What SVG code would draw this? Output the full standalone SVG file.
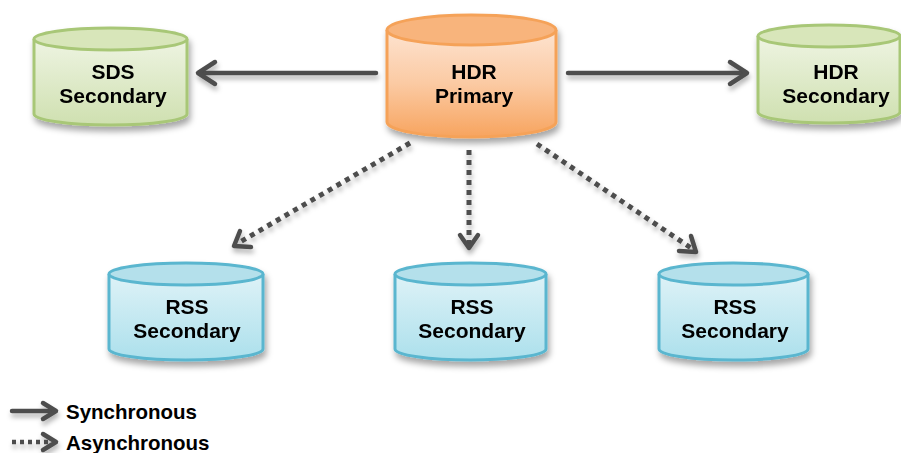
<svg xmlns="http://www.w3.org/2000/svg" width="901" height="453" viewBox="0 0 901 453">
<style>
text{font-family:"Liberation Sans",Arial,sans-serif;font-weight:bold;font-size:21px;fill:#000;text-anchor:middle}
.lg{font-size:20.5px;text-anchor:start}
.sync{fill:none;stroke:#4d4d4d;stroke-width:4.5;stroke-linecap:round}
.async{fill:none;stroke:#4d4d4d;stroke-width:5;stroke-dasharray:5 5}
.head{fill:none;stroke:#4d4d4d;stroke-width:4.5;stroke-linecap:round;stroke-linejoin:round}
.o .b{fill:url(#go);stroke:#f5a259;stroke-width:3}
.o .t{fill:#f8b47c;stroke:#f5a259;stroke-width:3}
.g .b{fill:url(#gg);stroke:#a8c777;stroke-width:3}
.g .t{fill:#d8e6ba;stroke:#a8c777;stroke-width:3}
.c .b{fill:url(#gc);stroke:#5ab6cf;stroke-width:3}
.c .t{fill:#b4e0eb;stroke:#5ab6cf;stroke-width:3}
</style>
<defs>
<linearGradient id="go" x1="0" y1="0" x2="0" y2="1"><stop offset="0" stop-color="#fde3d0"/><stop offset="0.5" stop-color="#fbcaa3"/><stop offset="1" stop-color="#f7a45f"/></linearGradient>
<linearGradient id="gg" x1="0" y1="0" x2="0" y2="1"><stop offset="0" stop-color="#eef4e2"/><stop offset="1" stop-color="#cfe0b0"/></linearGradient>
<linearGradient id="gc" x1="0" y1="0" x2="0" y2="1"><stop offset="0" stop-color="#def2f7"/><stop offset="1" stop-color="#ace0ec"/></linearGradient>
<filter id="sh" x="-20%" y="-20%" width="140%" height="150%"><feDropShadow dx="2" dy="5" stdDeviation="3" flood-color="#000" flood-opacity="0.35"/></filter>
<filter id="ash" x="-20%" y="-20%" width="140%" height="160%"><feDropShadow dx="1" dy="4" stdDeviation="2.5" flood-color="#000" flood-opacity="0.3"/></filter>
</defs>

<g id="connectors" filter="url(#ash)">
<g id="e-sds">
<line class="sync" x1="376" y1="73" x2="199" y2="73"/>
<polyline class="head" points="215,62 198,73 215,84"/>
</g>
<g id="e-hdrsec">
<line class="sync" x1="568" y1="73" x2="746" y2="73"/>
<polyline class="head" points="730,62 747,73 730,84"/>
</g>
<g id="e-rss1">
<line class="async" x1="410" y1="143" x2="240" y2="242"/>
<polyline class="head" points="240,231 234,246 251,247"/>
</g>
<g id="e-rss2">
<line class="async" x1="469" y1="150" x2="469" y2="244"/>
<polyline class="head" points="460,235 469,248 478,235"/>
</g>
<g id="e-rss3">
<line class="async" x1="537" y1="144" x2="691" y2="248"/>
<polyline class="head" points="679,251 696,252 691,236"/>
</g>
</g>

<g id="hdr-primary" class="o" filter="url(#sh)">
<path class="b" d="M387,30 V122 A84.5,15 0 0 0 556,122 V30"/>
<ellipse class="t" cx="471.5" cy="30" rx="84.5" ry="15"/>
<text x="474" y="79">HDR</text>
<text x="474" y="103">Primary</text>
</g>

<g id="sds-secondary" class="g" filter="url(#sh)">
<path class="b" d="M34,39 V114 A76.5,11 0 0 0 187,114 V39"/>
<ellipse class="t" cx="110.5" cy="39" rx="76.5" ry="11"/>
<text x="113" y="79">SDS</text>
<text x="113" y="103">Secondary</text>
</g>

<g id="hdr-secondary" class="g" filter="url(#sh)">
<path class="b" d="M758,36 V112 A71,11 0 0 0 900,112 V36"/>
<ellipse class="t" cx="829" cy="36" rx="71" ry="11"/>
<text x="836" y="79">HDR</text>
<text x="836" y="103">Secondary</text>
</g>

<g id="rss-1" class="c" filter="url(#sh)">
<path class="b" d="M109,274 V349 A77,11 0 0 0 263,349 V274"/>
<ellipse class="t" cx="186" cy="274" rx="77" ry="11"/>
<text x="187" y="314">RSS</text>
<text x="187" y="338">Secondary</text>
</g>

<g id="rss-2" class="c" filter="url(#sh)">
<path class="b" d="M395,274 V349 A75.5,11 0 0 0 546,349 V274"/>
<ellipse class="t" cx="470.5" cy="274" rx="75.5" ry="11"/>
<text x="472" y="314">RSS</text>
<text x="472" y="338">Secondary</text>
</g>

<g id="rss-3" class="c" filter="url(#sh)">
<path class="b" d="M659,274 V349 A74.5,11 0 0 0 808,349 V274"/>
<ellipse class="t" cx="733.5" cy="274" rx="74.5" ry="11"/>
<text x="735" y="314">RSS</text>
<text x="735" y="338">Secondary</text>
</g>

<g id="legend" filter="url(#ash)">
<line class="sync" x1="12" y1="411" x2="55" y2="411"/>
<polyline class="head" points="43,403 56,411 43,419"/>
<line class="async" x1="12" y1="442" x2="50" y2="442" style="stroke-width:4.5;stroke-dasharray:4 4"/>
<polyline class="head" points="43,434 56,442 43,450"/>
</g>
<text class="lg" x="66" y="419">Synchronous</text>
<text class="lg" x="66" y="450">Asynchronous</text>
</svg>
